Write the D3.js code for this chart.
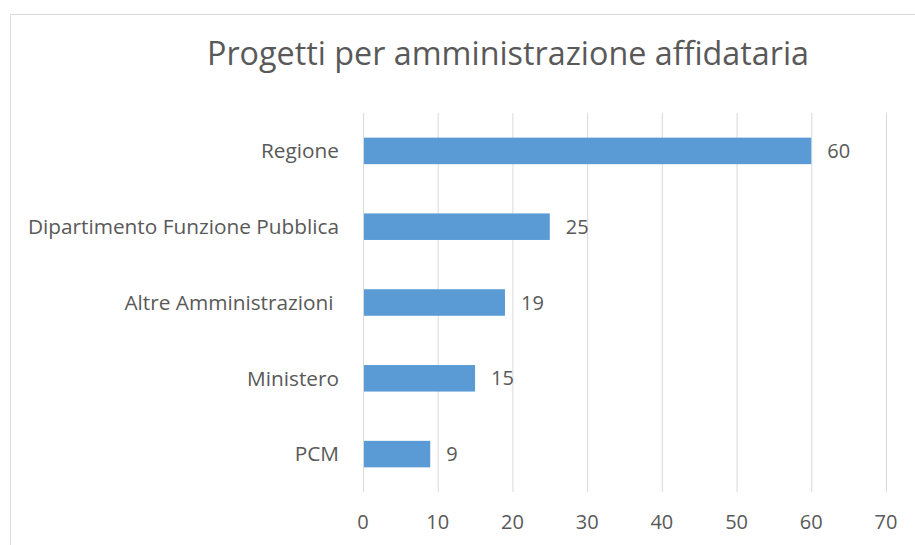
<!DOCTYPE html>
<html><head><meta charset="utf-8">
<script src="https://cdn.jsdelivr.net/npm/d3@7"></script>
<style>body{margin:0;background:#fff;} text{font-family:"Open Sans",sans-serif;fill:#595959;white-space:pre;}</style>
</head><body>
<svg id="c" width="915" height="545"></svg>
<script>
const categories = ["Regione", "Dipartimento Funzione Pubblica", "Altre Amministrazioni ", "Ministero", "PCM"];
const values = [60, 25, 19, 15, 9];
const xTicks = [0, 10, 20, 30, 40, 50, 60, 70];
const title = "Progetti per amministrazione affidataria";

const svg = d3.select("#c");
// chart border
svg.append("path").attr("d", "M10.5,545 V14.5 H915").attr("fill", "none").attr("stroke", "#d9d9d9").attr("stroke-width", 1);

const x = d3.scaleLinear().domain([0, 70]).range([363, 886]);
const y = d3.scaleBand().domain(categories).range([113, 492]).paddingInner(0.65).paddingOuter(0.325);

svg.append("text").attr("x", 508).attr("y", 65).attr("text-anchor", "middle")
  .style("font-size", "32.3px").text(title);

svg.append("g").selectAll("line").data(xTicks).join("line")
  .attr("x1", d => x(d) + 0.5).attr("x2", d => x(d) + 0.5)
  .attr("y1", 113).attr("y2", 492).attr("stroke", "#d9d9d9").attr("stroke-width", 1);

svg.append("g").selectAll("rect").data(values).join("rect")
  .attr("x", x(0) + 1).attr("y", (d, i) => y(categories[i]))
  .attr("width", d => x(d) - x(0) - 1).attr("height", y.bandwidth())
  .attr("fill", "#5b9bd5");

svg.append("g").selectAll("text").data(values).join("text")
  .attr("x", d => x(d) + 16).attr("y", (d, i) => y(categories[i]) + y.bandwidth() / 2)
  .attr("dy", "0.35em").style("font-size", "20px").text(d => d);

svg.append("g").selectAll("text").data(categories).join("text")
  .attr("x", 339).attr("y", d => y(d) + y.bandwidth() / 2)
  .attr("dy", "0.35em").attr("text-anchor", "end").style("font-size", "20.8px").text(d => d);

svg.append("g").selectAll("text").data(xTicks).join("text")
  .attr("x", d => x(d)).attr("y", 522).attr("dy", "0.35em")
  .attr("text-anchor", "middle").style("font-size", "20px").text(d => d);
</script>
</body></html>
